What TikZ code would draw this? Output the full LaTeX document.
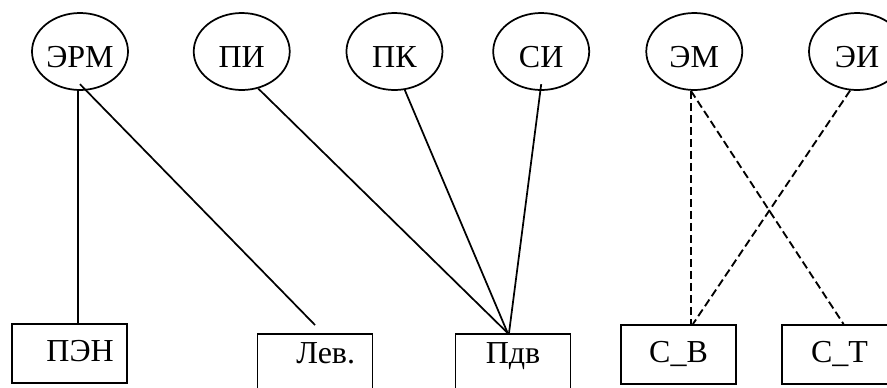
\documentclass[tikz,border=0pt]{standalone}
\usepackage{fontspec}
\setmainfont{Liberation Serif}
\usetikzlibrary{positioning,shapes.geometric}

\begin{document}
\begin{tikzpicture}
		[x=0.75pt,y=-0.75pt,
		every node/.style={font=\fontsize{24}{28}\selectfont},
		oval/.style={ellipse,draw,line width=1.3pt,inner sep=0pt,minimum width=72pt,minimum height=57.75pt,text height=24pt,text depth=0.75pt},
		block/.style={rectangle,draw,line width=1.3pt,inner sep=0pt,minimum width=86.25pt,minimum height=44.25pt,text height=28.5pt,text depth=15.75pt},
		lowblock/.style={block,text height=22.5pt,text depth=21.75pt},
		link/.style={line width=1.3pt},
		dashlink/.style={line width=1.4pt,dash pattern=on 6pt off 3pt}]
		\useasboundingbox (0,0) rectangle (887,387);

		\node [oval] (o1) at (80,51.5) {ЭРМ};
		\node [oval] (o2) [right=48pt of o1]{ПИ};
		\node [oval] (o3) [right=41.25pt of o2]{ПК};
		\node [oval] (o4) [right=36.75pt of o3]{СИ};
		\node [oval] (o5) [right=41.5pt of o4]{ЭМ};
		\node [oval] (o6) [right=48.75pt of o5]{ЭИ};

		\node [block,anchor=north] (r1) at (69.5,323) {\hspace*{16pt}ПЭН};
		\node [lowblock,anchor=north] (r2) at (315,333) {\hspace*{16pt}Лев.};
		\node [lowblock,anchor=north] (r3) at (513,333) {Пдв};
		\node [block,anchor=north] (r4) at (678.5,324) {С\_В};
		\node [block,anchor=north] (r5) at (839.5,324) {С\_Т};

		\draw [link] ([xshift=-1.5pt]o1.south) -- ([xshift=-1.5pt]o1.south |- r1.north);
		\draw [link] ([yshift=5pt]o1.south) -- ([yshift=6pt]r2.north);
		\draw [link] (o2.-66) -- ([xshift=-4pt]r3.north);
		\draw [link] (o3.-75) -- ([xshift=-4pt]r3.north);
		\draw [link] ([yshift=5pt]o4.south) -- ([xshift=-3pt]r3.north);
		\draw [dashlink] ([xshift=-2.5pt]o5.south) -- ([xshift=-2.5pt]o5.south |- r4.north);
		\draw [dashlink] ([xshift=-2.5pt]o5.south) -- ([xshift=3pt]r5.north);
		\draw [dashlink] (o6.-100) -- ([xshift=-1pt]o5.south |- r4.north);

	\end{tikzpicture}
\end{document}
